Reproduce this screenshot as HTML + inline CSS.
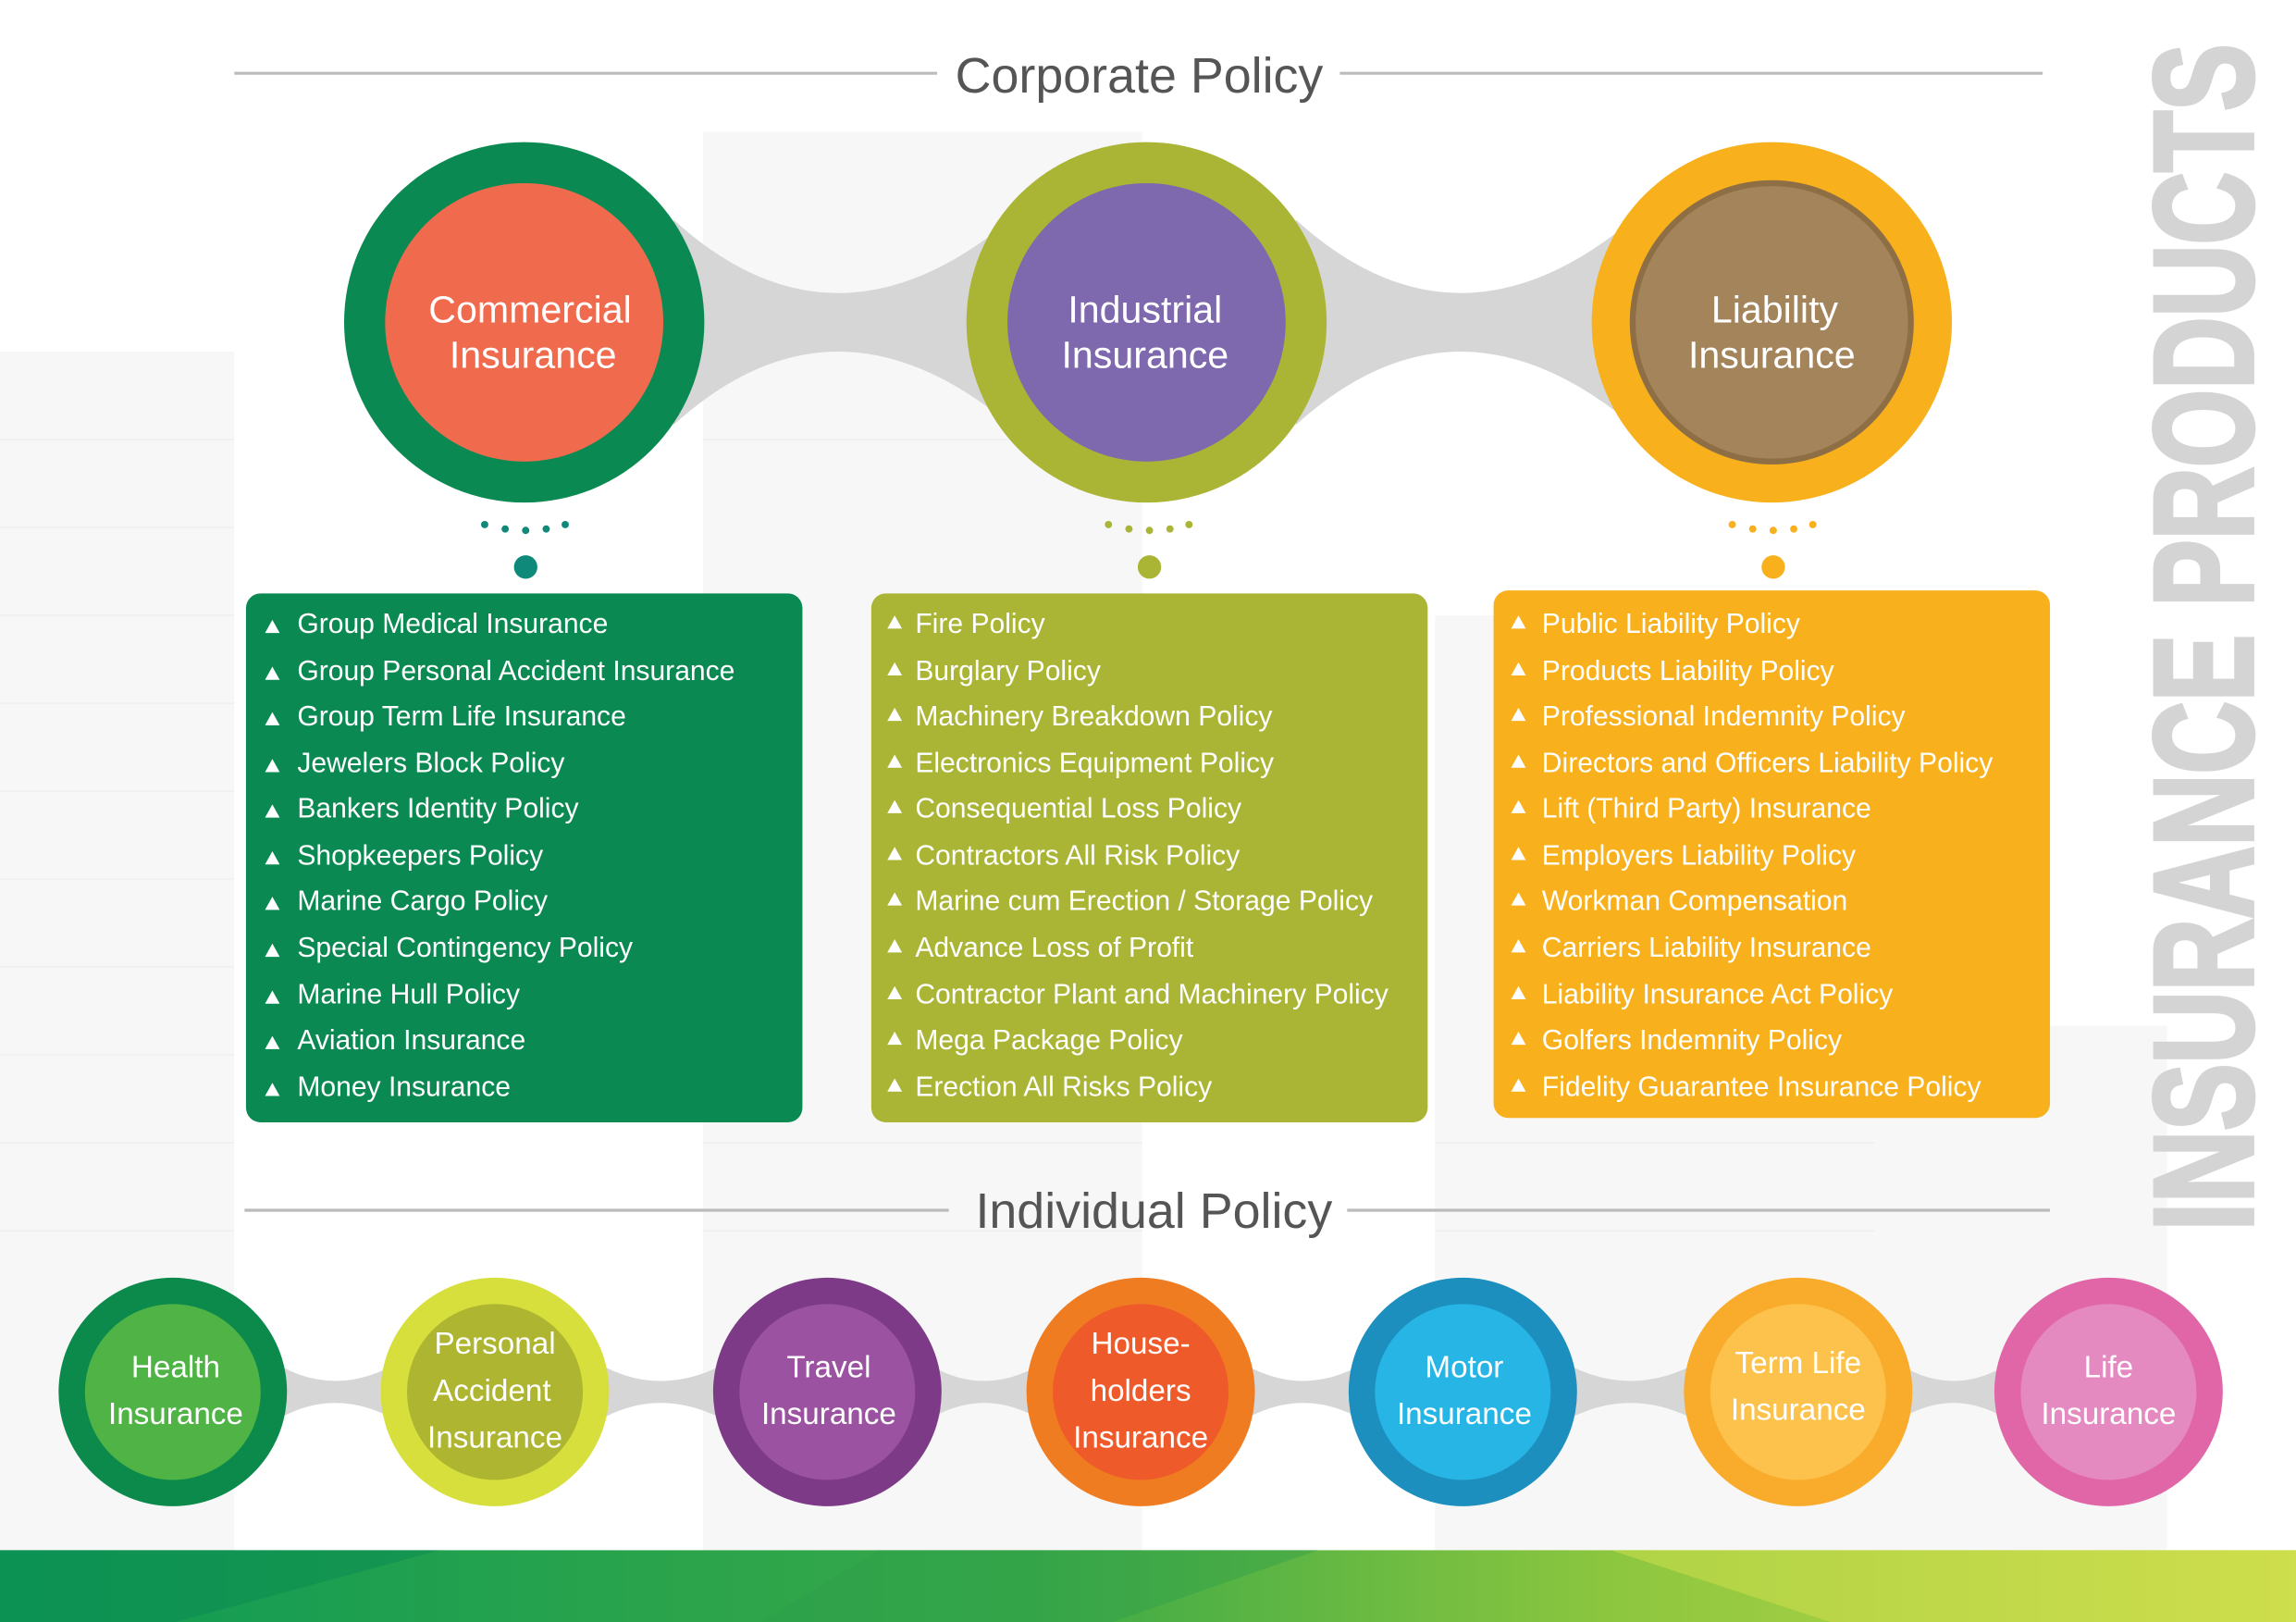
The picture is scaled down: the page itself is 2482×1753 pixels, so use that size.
<!DOCTYPE html>
<html><head><meta charset="utf-8"><style>html,body{margin:0;padding:0;background:#fff}svg{display:block}</style></head><body>
<svg width="2482" height="1753" viewBox="0 0 1568 1107" preserveAspectRatio="none" xmlns="http://www.w3.org/2000/svg" font-family="Liberation Sans, sans-serif">
<defs>
<linearGradient id="band" x1="0" x2="1" y1="0" y2="0">
<stop offset="0" stop-color="#0e9a55"/><stop offset="0.45" stop-color="#3aa947"/><stop offset="0.7" stop-color="#8cc63f"/><stop offset="1" stop-color="#c8dc4a"/>
</linearGradient>
</defs>
<rect width="1568" height="1107" fill="#fff"/>
<g fill="#f7f7f7">
<rect x="0" y="240" width="160" height="820"/>
<rect x="480" y="90" width="300" height="970"/>
<rect x="980" y="420" width="300" height="640"/>
<rect x="1280" y="700" width="200" height="360"/>
</g>
<g stroke="#efefef" stroke-width="1">
<path d="M0 300H160M0 360H160M0 420H160M0 480H160M0 540H160M0 600H160M0 660H160M0 720H160M0 780H160M0 840H160M480 300H780M480 780H780M480 840H780M980 780H1280M980 840H1280"/>
</g>
<line x1="160" y1="50" x2="640" y2="50" stroke="#bbb" stroke-width="2"/>
<line x1="915" y1="50" x2="1395" y2="50" stroke="#bbb" stroke-width="2"/>
<text x="778" y="63" text-anchor="middle" font-size="34" fill="#555">Corporate Policy</text>
<path d="M460 150 Q570 250 690 150 L690 290 Q570 190 460 290 Z" fill="#d6d6d6"/>
<path d="M885 150 Q995 250 1115 150 L1115 290 Q995 190 885 290 Z" fill="#d6d6d6"/>
<circle cx="358" cy="220" r="123" fill="#0a8a52"/><circle cx="358" cy="220" r="95" fill="#f06b4e"/>
<circle cx="783" cy="220" r="123" fill="#aab535"/><circle cx="783" cy="220" r="95" fill="#7f69ae"/>
<circle cx="1210" cy="220" r="123" fill="#f8b11c"/><circle cx="1210" cy="220" r="95" fill="#a4845a" stroke="#8e6f45" stroke-width="4"/>
<g font-size="26" fill="#fff" text-anchor="middle">
<text x="362" y="220">Commercial</text><text x="364" y="251">Insurance</text>
<text x="782" y="220">Industrial</text><text x="782" y="251">Insurance</text>
<text x="1212" y="220">Liability</text><text x="1210" y="251">Insurance</text>
</g>
<g fill="#0f8a7a"><circle cx="331" cy="358" r="2.5"/><circle cx="345" cy="361" r="2.5"/><circle cx="359" cy="362" r="2.5"/><circle cx="373" cy="361" r="2.5"/><circle cx="386" cy="358" r="2.5"/><circle cx="359" cy="387" r="8"/></g>
<g fill="#aab535"><circle cx="757" cy="358" r="2.5"/><circle cx="771" cy="361" r="2.5"/><circle cx="785" cy="362" r="2.5"/><circle cx="799" cy="361" r="2.5"/><circle cx="812" cy="358" r="2.5"/><circle cx="785" cy="387" r="8"/></g>
<g fill="#f8b11c"><circle cx="1183" cy="358" r="2.5"/><circle cx="1197" cy="361" r="2.5"/><circle cx="1211" cy="362" r="2.5"/><circle cx="1225" cy="361" r="2.5"/><circle cx="1238" cy="358" r="2.5"/><circle cx="1211" cy="387" r="8"/></g>
<rect x="168" y="405" width="380" height="361" rx="10" fill="#0a8a52"/>
<rect x="595" y="405" width="380" height="361" rx="10" fill="#aab535"/>
<rect x="1020" y="403" width="380" height="360" rx="10" fill="#f8b11c"/>
<g font-size="19" fill="#fff">
<g transform="translate(181,0)">
<text x="22" y="432">Group Medical Insurance</text><text x="22" y="464">Group Personal Accident Insurance</text><text x="22" y="495">Group Term Life Insurance</text><text x="22" y="527">Jewelers Block Policy</text><text x="22" y="558">Bankers Identity Policy</text><text x="22" y="590">Shopkeepers Policy</text><text x="22" y="621">Marine Cargo Policy</text><text x="22" y="653">Special Contingency Policy</text><text x="22" y="685">Marine Hull Policy</text><text x="22" y="716">Aviation Insurance</text><text x="22" y="748">Money Insurance</text>
</g>
<g transform="translate(603,0)">
<text x="22" y="432">Fire Policy</text><text x="22" y="464">Burglary Policy</text><text x="22" y="495">Machinery Breakdown Policy</text><text x="22" y="527">Electronics Equipment Policy</text><text x="22" y="558">Consequential Loss Policy</text><text x="22" y="590">Contractors All Risk Policy</text><text x="22" y="621">Marine cum Erection / Storage Policy</text><text x="22" y="653">Advance Loss of Profit</text><text x="22" y="685">Contractor Plant and Machinery Policy</text><text x="22" y="716">Mega Package Policy</text><text x="22" y="748">Erection All Risks Policy</text>
</g>
<g transform="translate(1031,0)">
<text x="22" y="432">Public Liability Policy</text><text x="22" y="464">Products Liability Policy</text><text x="22" y="495">Professional Indemnity Policy</text><text x="22" y="527">Directors and Officers Liability Policy</text><text x="22" y="558">Lift (Third Party) Insurance</text><text x="22" y="590">Employers Liability Policy</text><text x="22" y="621">Workman Compensation</text><text x="22" y="653">Carriers Liability Insurance</text><text x="22" y="685">Liability Insurance Act Policy</text><text x="22" y="716">Golfers Indemnity Policy</text><text x="22" y="748">Fidelity Guarantee Insurance Policy</text>
</g>
</g>
<g fill="#fff">
<path d="M181 432l5-9 5 9z M181 464l5-9 5 9z M181 495l5-9 5 9z M181 527l5-9 5 9z M181 558l5-9 5 9z M181 590l5-9 5 9z M181 621l5-9 5 9z M181 653l5-9 5 9z M181 685l5-9 5 9z M181 716l5-9 5 9z M181 748l5-9 5 9z"/>
<path transform="translate(425,-3)" d="M181 432l5-9 5 9z M181 464l5-9 5 9z M181 495l5-9 5 9z M181 527l5-9 5 9z M181 558l5-9 5 9z M181 590l5-9 5 9z M181 621l5-9 5 9z M181 653l5-9 5 9z M181 685l5-9 5 9z M181 716l5-9 5 9z M181 748l5-9 5 9z"/>
<path transform="translate(851,-3)" d="M181 432l5-9 5 9z M181 464l5-9 5 9z M181 495l5-9 5 9z M181 527l5-9 5 9z M181 558l5-9 5 9z M181 590l5-9 5 9z M181 621l5-9 5 9z M181 653l5-9 5 9z M181 685l5-9 5 9z M181 716l5-9 5 9z M181 748l5-9 5 9z"/>
</g>
<line x1="167" y1="826" x2="648" y2="826" stroke="#bbb" stroke-width="2"/>
<line x1="920" y1="826" x2="1400" y2="826" stroke="#bbb" stroke-width="2"/>
<text x="788" y="838" text-anchor="middle" font-size="34" fill="#555">Individual Policy</text>
<g fill="#d6d6d6">
<path d="M180 925 Q228 960 280 925 L280 975 Q228 940 180 975Z"/>
<path d="M400 925 Q450 960 505 925 L505 975 Q450 940 400 975Z"/>
<path d="M625 925 Q672 960 720 925 L720 975 Q672 940 625 975Z"/>
<path d="M840 925 Q890 960 940 925 L940 975 Q890 940 840 975Z"/>
<path d="M1060 925 Q1113 960 1168 925 L1168 975 Q1113 940 1060 975Z"/>
<path d="M1288 925 Q1334 960 1380 925 L1380 975 Q1334 940 1288 975Z"/>
</g>
<circle cx="118" cy="950" r="78" fill="#0b8a4c"/><circle cx="118" cy="950" r="60" fill="#4fb445"/>
<circle cx="338" cy="950" r="78" fill="#d6df3c"/><circle cx="338" cy="950" r="60" fill="#adb531"/>
<circle cx="565" cy="950" r="78" fill="#7d3a87"/><circle cx="565" cy="950" r="60" fill="#9b52a0"/>
<circle cx="779" cy="950" r="78" fill="#f07c22"/><circle cx="779" cy="950" r="60" fill="#ef5a2a"/>
<circle cx="999" cy="950" r="78" fill="#1c8fbe"/><circle cx="999" cy="950" r="60" fill="#27b5e5"/>
<circle cx="1228" cy="950" r="78" fill="#f9ac2c"/><circle cx="1228" cy="950" r="60" fill="#fdc24b"/>
<circle cx="1440" cy="950" r="78" fill="#e066a8"/><circle cx="1440" cy="950" r="60" fill="#e58ac0"/>
<g font-size="21" fill="#fff" text-anchor="middle">
<text x="120" y="940">Health</text><text x="120" y="972">Insurance</text>
<text x="338" y="924">Personal</text><text x="336" y="956">Accident</text><text x="338" y="988">Insurance</text>
<text x="566" y="940">Travel</text><text x="566" y="972">Insurance</text>
<text x="779" y="924">House-</text><text x="779" y="956">holders</text><text x="779" y="988">Insurance</text>
<text x="1000" y="940">Motor</text><text x="1000" y="972">Insurance</text>
<text x="1228" y="937">Term Life</text><text x="1228" y="969">Insurance</text>
<text x="1440" y="940">Life</text><text x="1440" y="972">Insurance</text>
</g>
<text transform="translate(1538,840) rotate(-90)" font-size="96" font-weight="bold" fill="#d4d4d4" stroke="#d4d4d4" stroke-width="3" textLength="810" lengthAdjust="spacingAndGlyphs">INSURANCE PRODUCTS</text>
<rect x="0" y="1058" width="1568" height="49" fill="url(#band)"/>
<path d="M0 1058 L300 1058 L120 1107 L0 1107Z" fill="#0a8a52" opacity="0.5"/>
<path d="M600 1058 L900 1058 L760 1107 L520 1107Z" fill="#2e9e4a" opacity="0.4"/>
<path d="M1100 1058 L1568 1058 L1568 1107 L1250 1107Z" fill="#d4e04e" opacity="0.5"/>
</svg>
</body></html>
